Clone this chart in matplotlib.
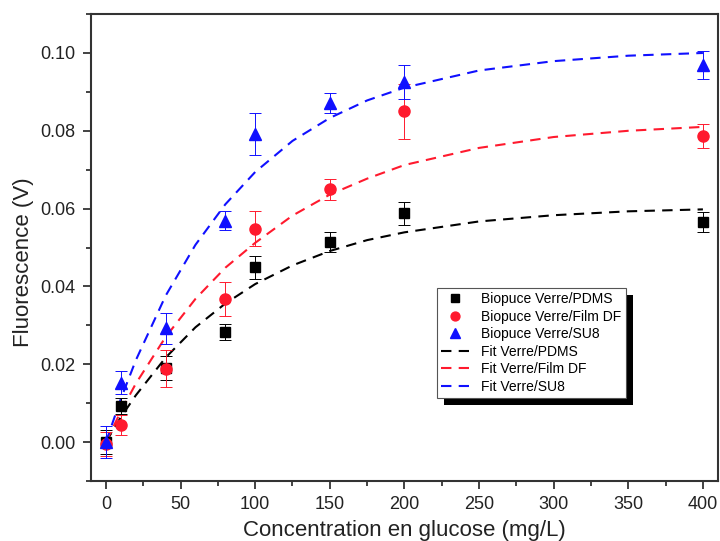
import matplotlib
matplotlib.use("Agg")
import matplotlib.pyplot as plt
from matplotlib.patches import Rectangle
from matplotlib.ticker import MultipleLocator, FormatStrFormatter

plt.rcParams['font.family'] = ['Liberation Sans', 'DejaVu Sans']

# Mesures (concentration en mg/L, fluorescence en V)
conc = [0, 10, 40, 80, 100, 150, 200, 400]

pdms = [0.0000, 0.0093, 0.0190, 0.0283, 0.0449, 0.0514, 0.0588, 0.0566]
pdms_err = [0.0030, 0.0020, 0.0030, 0.0020, 0.0030, 0.0025, 0.0030, 0.0026]

film = [-0.0005, 0.0044, 0.0189, 0.0368, 0.0548, 0.0650, 0.0850, 0.0787]
film_err = [0.0030, 0.0025, 0.0048, 0.0043, 0.0045, 0.0027, 0.0070, 0.0030]

su8 = [0.0000, 0.0153, 0.0292, 0.0569, 0.0792, 0.0871, 0.0926, 0.0969]
su8_err = [0.0040, 0.0030, 0.0040, 0.0025, 0.0055, 0.0025, 0.0044, 0.0036]

# Courbes d'ajustement
fit_x = [0, 10, 20, 40, 60, 80, 100, 125, 150, 175, 200, 250, 300, 350, 400]
fit_pdms = [0.0, 0.0064, 0.0120, 0.0217, 0.0295, 0.0356, 0.0406, 0.0454,
            0.0491, 0.0519, 0.0539, 0.0567, 0.0583, 0.0593, 0.0598]
fit_film = [0.0, 0.0079, 0.0150, 0.0270, 0.0368, 0.0448, 0.0512, 0.0582,
            0.0636, 0.0677, 0.0712, 0.0756, 0.0784, 0.0800, 0.0810]
fit_su8 = [0.0, 0.0111, 0.0210, 0.0376, 0.0507, 0.0611, 0.0694, 0.0774,
           0.0833, 0.0878, 0.0911, 0.0955, 0.0979, 0.0993, 0.1000]

c_black = '#000000'
c_red = '#ff1a2e'
c_blue = '#1010ff'

fig = plt.figure(figsize=(7.2, 5.41), dpi=100)
ax = fig.add_axes([0.1264, 0.111, 0.8706, 0.863])

series = [
    (pdms, pdms_err, 's', c_black, 7, 'Biopuce Verre/PDMS'),
    (film, film_err, 'o', c_red, 8, 'Biopuce Verre/Film DF'),
    (su8, su8_err, '^', c_blue, 9, 'Biopuce Verre/SU8'),
]
handles = []
for y, err, mk, col, ms, lab in series:
    ax.errorbar(conc, y, yerr=err, fmt='none', ecolor=col, elinewidth=0.7,
                capsize=4, capthick=0.7, zorder=3)
    h, = ax.plot(conc, y, mk, color=col, ms=ms, ls='none', label=lab, zorder=3)
    handles.append(h)

for fy, col, lab in [(fit_pdms, c_black, 'Fit Verre/PDMS'),
                     (fit_film, c_red, 'Fit Verre/Film DF'),
                     (fit_su8, c_blue, 'Fit Verre/SU8')]:
    h, = ax.plot(fit_x, fy, '--', color=col, lw=1.5, dashes=(5, 3.5), label=lab, zorder=2)
    handles.append(h)

ax.set_xlim(-10, 410)
ax.set_ylim(-0.01, 0.11)
ax.xaxis.set_major_locator(MultipleLocator(50))
ax.xaxis.set_minor_locator(MultipleLocator(25))
ax.yaxis.set_major_locator(MultipleLocator(0.02))
ax.yaxis.set_minor_locator(MultipleLocator(0.01))
ax.yaxis.set_major_formatter(FormatStrFormatter('%.2f'))

ax.tick_params(which='both', direction='out', top=False, right=False, color='#222222', width=1.2)
ax.tick_params(which='major', length=6, labelsize=13, colors='#222222', pad=5)
ax.tick_params(which='minor', length=3.5)
for sp in ax.spines.values():
    sp.set_linewidth(1.5)
    sp.set_color('#333333')

ax.set_xlabel('Concentration en glucose (mg/L)', fontsize=16, color='#222222', labelpad=5)
ax.set_ylabel('Fluorescence (V)', fontsize=16, color='#222222')
ax.yaxis.set_label_coords(-0.091, 0.469)

leg = ax.legend(handles=handles, loc='upper left', bbox_to_anchor=(0.552, 0.413), fontsize=10,
                frameon=True, fancybox=False, edgecolor='#555555', framealpha=1,
                borderpad=0.3, labelspacing=0.25, handlelength=2.0, handletextpad=0.9,
                borderaxespad=0, markerscale=0.8)
leg.get_frame().set_linewidth(0.8)
leg.set_zorder(5)

# ombre noire décalée sous la légende
fig.canvas.draw()
bb = leg.get_window_extent().transformed(fig.transFigure.inverted())
dx, dy = 7 / 720, 7 / 541
shadow = Rectangle((bb.x0 + dx, bb.y0 - dy), bb.width, bb.height,
                   transform=fig.transFigure, facecolor='black', edgecolor='none', zorder=4)
ax.add_patch(shadow)
shadow.set_clip_on(False)

fig.savefig('out.png', dpi=100)
